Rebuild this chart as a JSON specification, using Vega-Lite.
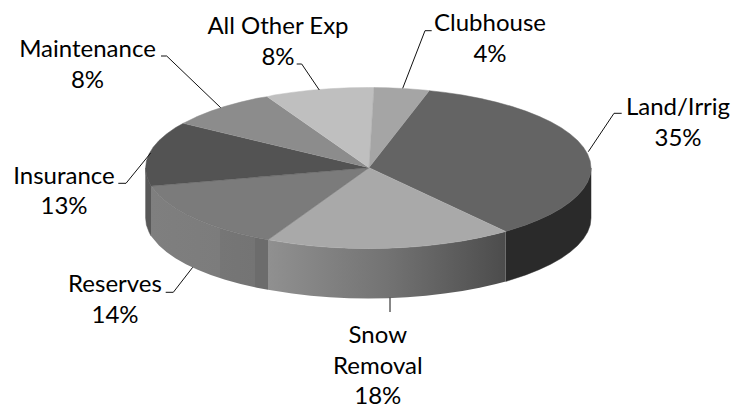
{"$schema":"https://vega.github.io/schema/vega-lite/v6.json","width":732,"height":407,"padding":0,"autosize":{"type":"none"},"background":"white","config":{"view":{"stroke":null}},
"resolve":{"scale":{"fill":"independent","stroke":"independent"}},
"datasets":{
"walls":[
{"part":"LandWall","i":1,"x":137.4,"y":-63.5},{"part":"LandWall","i":2,"x":157.5,"y":-56.9},{"part":"LandWall","i":3,"x":170.6,"y":-51.7},{"part":"LandWall","i":4,"x":182.4,"y":-46.2},{"part":"LandWall","i":5,"x":192.9,"y":-40.3},{"part":"LandWall","i":6,"x":201.8,"y":-34},{"part":"LandWall","i":7,"x":209.3,"y":-27.5},{"part":"LandWall","i":8,"x":215.1,"y":-20.8},{"part":"LandWall","i":9,"x":219.3,"y":-14},{"part":"LandWall","i":10,"x":221.9,"y":-7},{"part":"LandWall","i":11,"x":222.7,"y":0},{"part":"LandWall","i":12,"x":222.7,"y":-50},{"part":"LandWall","i":13,"x":221.9,"y":-57},{"part":"LandWall","i":14,"x":219.3,"y":-64},{"part":"LandWall","i":15,"x":215.1,"y":-70.8},{"part":"LandWall","i":16,"x":209.3,"y":-77.5},{"part":"LandWall","i":17,"x":201.8,"y":-84},{"part":"LandWall","i":18,"x":192.9,"y":-90.3},{"part":"LandWall","i":19,"x":182.4,"y":-96.2},{"part":"LandWall","i":20,"x":170.6,"y":-101.7},{"part":"LandWall","i":21,"x":157.5,"y":-106.9},{"part":"LandWall","i":22,"x":137.4,"y":-113.5},
{"part":"InsuranceWall","i":1,"x":-217.3,"y":-18},{"part":"InsuranceWall","i":2,"x":-219.3,"y":-14},{"part":"InsuranceWall","i":3,"x":-221.9,"y":-7},{"part":"InsuranceWall","i":4,"x":-222.7,"y":0},{"part":"InsuranceWall","i":5,"x":-222.7,"y":-50},{"part":"InsuranceWall","i":6,"x":-221.9,"y":-57},{"part":"InsuranceWall","i":7,"x":-219.3,"y":-64},{"part":"InsuranceWall","i":8,"x":-217.3,"y":-68}
],
"snowWall":[
{"i":1,"x":137.4,"y":-63.5},{"i":2,"x":127.7,"y":-65.9},{"i":3,"x":111.4,"y":-69.7},{"i":4,"x":94.1,"y":-73},{"i":5,"x":76.2,"y":-75.6},{"i":6,"x":57.6,"y":-77.8},{"i":7,"x":38.7,"y":-79.3},{"i":8,"x":19.4,"y":-80.2},{"i":9,"x":0,"y":-80.5},{"i":10,"x":-19.4,"y":-80.2},{"i":11,"x":-38.7,"y":-79.3},{"i":12,"x":-57.6,"y":-77.8},{"i":13,"x":-76.2,"y":-75.6},{"i":14,"x":-100.3,"y":-71.8},{"i":15,"x":-100.3,"y":-121.8},{"i":16,"x":-76.2,"y":-125.6},{"i":17,"x":-57.6,"y":-127.8},{"i":18,"x":-38.7,"y":-129.3},{"i":19,"x":-19.4,"y":-130.2},{"i":20,"x":0,"y":-130.5},{"i":21,"x":19.4,"y":-130.2},{"i":22,"x":38.7,"y":-129.3},{"i":23,"x":57.6,"y":-127.8},{"i":24,"x":76.2,"y":-125.6},{"i":25,"x":94.1,"y":-123},{"i":26,"x":111.4,"y":-119.7},{"i":27,"x":127.7,"y":-115.9},{"i":28,"x":137.4,"y":-113.5}
],
"reservesWall":[
{"i":1,"x":-100.3,"y":-71.8},{"i":2,"x":-111.4,"y":-69.7},{"i":3,"x":-127.7,"y":-65.9},{"i":4,"x":-143.1,"y":-61.7},{"i":5,"x":-157.5,"y":-56.9},{"i":6,"x":-170.6,"y":-51.7},{"i":7,"x":-182.4,"y":-46.2},{"i":8,"x":-192.9,"y":-40.3},{"i":9,"x":-201.8,"y":-34},{"i":10,"x":-209.3,"y":-27.5},{"i":11,"x":-217.3,"y":-18},{"i":12,"x":-217.3,"y":-68},{"i":13,"x":-209.3,"y":-77.5},{"i":14,"x":-201.8,"y":-84},{"i":15,"x":-192.9,"y":-90.3},{"i":16,"x":-182.4,"y":-96.2},{"i":17,"x":-170.6,"y":-101.7},{"i":18,"x":-157.5,"y":-106.9},{"i":19,"x":-143.1,"y":-111.7},{"i":20,"x":-127.7,"y":-115.9},{"i":21,"x":-111.4,"y":-119.7},{"i":22,"x":-100.3,"y":-121.8}
],
"faces":[
{"part":"Land/Irrig","share":35,"i":0,"x":0.7,"y":0.3},{"part":"Land/Irrig","share":35,"i":1,"x":61,"y":77.3},{"part":"Land/Irrig","share":35,"i":2,"x":76.2,"y":75.6},{"part":"Land/Irrig","share":35,"i":3,"x":94.1,"y":73},{"part":"Land/Irrig","share":35,"i":4,"x":111.4,"y":69.7},{"part":"Land/Irrig","share":35,"i":5,"x":127.7,"y":65.9},{"part":"Land/Irrig","share":35,"i":6,"x":143.1,"y":61.7},{"part":"Land/Irrig","share":35,"i":7,"x":157.5,"y":56.9},{"part":"Land/Irrig","share":35,"i":8,"x":170.6,"y":51.7},{"part":"Land/Irrig","share":35,"i":9,"x":182.4,"y":46.2},{"part":"Land/Irrig","share":35,"i":10,"x":192.9,"y":40.3},{"part":"Land/Irrig","share":35,"i":11,"x":201.8,"y":34},{"part":"Land/Irrig","share":35,"i":12,"x":209.3,"y":27.5},{"part":"Land/Irrig","share":35,"i":13,"x":215.1,"y":20.8},{"part":"Land/Irrig","share":35,"i":14,"x":219.3,"y":14},{"part":"Land/Irrig","share":35,"i":15,"x":221.9,"y":7},{"part":"Land/Irrig","share":35,"i":16,"x":222.7,"y":0},{"part":"Land/Irrig","share":35,"i":17,"x":221.9,"y":-7},{"part":"Land/Irrig","share":35,"i":18,"x":219.3,"y":-14},{"part":"Land/Irrig","share":35,"i":19,"x":215.1,"y":-20.8},{"part":"Land/Irrig","share":35,"i":20,"x":209.3,"y":-27.5},{"part":"Land/Irrig","share":35,"i":21,"x":201.8,"y":-34},{"part":"Land/Irrig","share":35,"i":22,"x":192.9,"y":-40.3},{"part":"Land/Irrig","share":35,"i":23,"x":182.4,"y":-46.2},{"part":"Land/Irrig","share":35,"i":24,"x":170.6,"y":-51.7},{"part":"Land/Irrig","share":35,"i":25,"x":157.5,"y":-56.9},{"part":"Land/Irrig","share":35,"i":26,"x":137.4,"y":-63.5},
{"part":"Snow Removal","share":18,"i":0,"x":0.7,"y":0.3},{"part":"Snow Removal","share":18,"i":1,"x":137.4,"y":-63.5},{"part":"Snow Removal","share":18,"i":2,"x":127.7,"y":-65.9},{"part":"Snow Removal","share":18,"i":3,"x":111.4,"y":-69.7},{"part":"Snow Removal","share":18,"i":4,"x":94.1,"y":-73},{"part":"Snow Removal","share":18,"i":5,"x":76.2,"y":-75.6},{"part":"Snow Removal","share":18,"i":6,"x":57.6,"y":-77.8},{"part":"Snow Removal","share":18,"i":7,"x":38.7,"y":-79.3},{"part":"Snow Removal","share":18,"i":8,"x":19.4,"y":-80.2},{"part":"Snow Removal","share":18,"i":9,"x":0,"y":-80.5},{"part":"Snow Removal","share":18,"i":10,"x":-19.4,"y":-80.2},{"part":"Snow Removal","share":18,"i":11,"x":-38.7,"y":-79.3},{"part":"Snow Removal","share":18,"i":12,"x":-57.6,"y":-77.8},{"part":"Snow Removal","share":18,"i":13,"x":-76.2,"y":-75.6},{"part":"Snow Removal","share":18,"i":14,"x":-100.3,"y":-71.8},
{"part":"Reserves","share":14,"i":0,"x":0.7,"y":0.3},{"part":"Reserves","share":14,"i":1,"x":-100.3,"y":-71.8},{"part":"Reserves","share":14,"i":2,"x":-111.4,"y":-69.7},{"part":"Reserves","share":14,"i":3,"x":-127.7,"y":-65.9},{"part":"Reserves","share":14,"i":4,"x":-143.1,"y":-61.7},{"part":"Reserves","share":14,"i":5,"x":-157.5,"y":-56.9},{"part":"Reserves","share":14,"i":6,"x":-170.6,"y":-51.7},{"part":"Reserves","share":14,"i":7,"x":-182.4,"y":-46.2},{"part":"Reserves","share":14,"i":8,"x":-192.9,"y":-40.3},{"part":"Reserves","share":14,"i":9,"x":-201.8,"y":-34},{"part":"Reserves","share":14,"i":10,"x":-209.3,"y":-27.5},{"part":"Reserves","share":14,"i":11,"x":-217.3,"y":-18},
{"part":"Insurance","share":13,"i":0,"x":0.7,"y":0.3},{"part":"Insurance","share":13,"i":1,"x":-217.3,"y":-18},{"part":"Insurance","share":13,"i":2,"x":-219.3,"y":-14},{"part":"Insurance","share":13,"i":3,"x":-221.9,"y":-7},{"part":"Insurance","share":13,"i":4,"x":-222.7,"y":0},{"part":"Insurance","share":13,"i":5,"x":-221.9,"y":7},{"part":"Insurance","share":13,"i":6,"x":-219.3,"y":14},{"part":"Insurance","share":13,"i":7,"x":-215.1,"y":20.8},{"part":"Insurance","share":13,"i":8,"x":-209.3,"y":27.5},{"part":"Insurance","share":13,"i":9,"x":-201.8,"y":34},{"part":"Insurance","share":13,"i":10,"x":-192.9,"y":40.3},{"part":"Insurance","share":13,"i":11,"x":-185,"y":44.7},
{"part":"Maintenance","share":8,"i":0,"x":0.7,"y":0.3},{"part":"Maintenance","share":8,"i":1,"x":-185,"y":44.7},{"part":"Maintenance","share":8,"i":2,"x":-170.6,"y":51.7},{"part":"Maintenance","share":8,"i":3,"x":-157.5,"y":56.9},{"part":"Maintenance","share":8,"i":4,"x":-143.1,"y":61.7},{"part":"Maintenance","share":8,"i":5,"x":-127.7,"y":65.9},{"part":"Maintenance","share":8,"i":6,"x":-111.4,"y":69.7},{"part":"Maintenance","share":8,"i":7,"x":-101,"y":71.3},
{"part":"All Other Exp","share":8,"i":0,"x":0.7,"y":0.3},{"part":"All Other Exp","share":8,"i":1,"x":-101,"y":71.3},{"part":"All Other Exp","share":8,"i":2,"x":-94.1,"y":73},{"part":"All Other Exp","share":8,"i":3,"x":-76.2,"y":75.6},{"part":"All Other Exp","share":8,"i":4,"x":-57.6,"y":77.8},{"part":"All Other Exp","share":8,"i":5,"x":-38.7,"y":79.3},{"part":"All Other Exp","share":8,"i":6,"x":-19.4,"y":80.2},{"part":"All Other Exp","share":8,"i":7,"x":0,"y":80.5},{"part":"All Other Exp","share":8,"i":8,"x":5.7,"y":80.4},
{"part":"Clubhouse","share":4,"i":0,"x":0.7,"y":0.3},{"part":"Clubhouse","share":4,"i":1,"x":5.7,"y":80.4},{"part":"Clubhouse","share":4,"i":2,"x":19.4,"y":80.2},{"part":"Clubhouse","share":4,"i":3,"x":38.7,"y":79.3},{"part":"Clubhouse","share":4,"i":4,"x":57.6,"y":77.8},{"part":"Clubhouse","share":4,"i":5,"x":61,"y":77.3}
],
"leaders":[
{"part":"All Other Exp","i":1,"x":-71.6,"y":104},{"part":"All Other Exp","i":2,"x":-66.6,"y":104},{"part":"All Other Exp","i":3,"x":-49,"y":78},
{"part":"Maintenance","i":1,"x":-207.3,"y":112},{"part":"Maintenance","i":2,"x":-201.6,"y":112},{"part":"Maintenance","i":3,"x":-147.6,"y":60.3},
{"part":"Clubhouse","i":1,"x":63.4,"y":137.3},{"part":"Clubhouse","i":2,"x":56.7,"y":137.3},{"part":"Clubhouse","i":3,"x":34.4,"y":79.7},
{"part":"Land/Irrig","i":1,"x":220,"y":16.3},{"part":"Land/Irrig","i":2,"x":245.7,"y":54.7},{"part":"Land/Irrig","i":3,"x":253.4,"y":54.7},
{"part":"Insurance","i":1,"x":-217.6,"y":15},{"part":"Insurance","i":2,"x":-242.3,"y":-15.3},{"part":"Insurance","i":3,"x":-250,"y":-15.3},
{"part":"Reserves","i":1,"x":-202.6,"y":-124.3},{"part":"Reserves","i":2,"x":-195,"y":-124.3},{"part":"Reserves","i":3,"x":-175.6,"y":-99.3},
{"part":"Snow Removal","i":1,"x":21.7,"y":-129.7},{"part":"Snow Removal","i":2,"x":21.7,"y":-144}
],
"labels":[
{"label":"All Other Exp\n8%","share":8,"x":-90.3,"y":141},{"label":"Clubhouse\n4%","share":4,"x":121.7,"y":144},{"label":"Maintenance\n8%","share":8,"x":-280.8,"y":118},{"label":"Land/Irrig\n35%","share":35,"x":309.7,"y":60},{"label":"Insurance\n13%","share":13,"x":-304.3,"y":-8.7},{"label":"Reserves\n14%","share":14,"x":-253.3,"y":-117},{"label":"Snow\nRemoval\n18%","share":18,"x":9.5,"y":-168}
]},
"encoding":{
"x":{"field":"x","type":"quantitative","axis":null,"scale":{"domain":[-368.3,363.7],"nice":false,"zero":false}},
"y":{"field":"y","type":"quantitative","axis":null,"scale":{"domain":[-239,168],"nice":false,"zero":false}}
},
"layer":[
{"data":{"name":"walls"},"mark":{"type":"line","strokeWidth":0.5},"encoding":{"order":{"field":"i"},"fill":{"field":"part","scale":{"domain":["LandWall","InsuranceWall"],"range":["#2a2a2a","#585858"]},"legend":null},"stroke":{"field":"part","scale":{"domain":["LandWall","InsuranceWall"],"range":["#2a2a2a","#585858"]},"legend":null}}},
{"data":{"name":"snowWall"},"mark":{"type":"line","strokeWidth":0,"fill":{"gradient":"linear","x1":0,"x2":1,"y1":0,"y2":0,"stops":[{"offset":0,"color":"#909090"},{"offset":0.5,"color":"#737373"},{"offset":1,"color":"#4c4c4c"}]}},"encoding":{"order":{"field":"i"}}},
{"data":{"name":"reservesWall"},"mark":{"type":"line","strokeWidth":0,"fill":{"gradient":"linear","x1":0,"x2":1,"y1":0,"y2":0,"stops":[{"offset":0,"color":"#7f7f7f"},{"offset":0.59,"color":"#7c7c7c"},{"offset":0.59,"color":"#767676"},{"offset":0.89,"color":"#747474"},{"offset":0.89,"color":"#6c6c6c"},{"offset":1,"color":"#6c6c6c"}]}},"encoding":{"order":{"field":"i"}}},
{"data":{"name":"faces"},"mark":{"type":"line","strokeWidth":0.5},"encoding":{"order":{"field":"i"},"fill":{"field":"part","scale":{"domain":["Land/Irrig","Snow Removal","Reserves","Insurance","Maintenance","All Other Exp","Clubhouse"],"range":["#646464","#a9a9a9","#7b7b7b","#535353","#8c8c8c","#bfbfbf","#a5a5a5"]},"legend":null},"stroke":{"field":"part","scale":{"domain":["Land/Irrig","Snow Removal","Reserves","Insurance","Maintenance","All Other Exp","Clubhouse"],"range":["#646464","#a9a9a9","#6c6c6c","#535353","#8c8c8c","#bfbfbf","#a5a5a5"]},"legend":null}}},
{"data":{"name":"leaders"},"mark":{"type":"line","stroke":"#111111","strokeWidth":1},"encoding":{"order":{"field":"i"},"detail":{"field":"part"}}},
{"data":{"name":"labels"},"mark":{"type":"text","font":"Lato","fontSize":24,"lineHeight":30.5,"lineBreak":"\n","align":"center","baseline":"middle","fill":"#000000"},"encoding":{"text":{"field":"label"}}}
]}
